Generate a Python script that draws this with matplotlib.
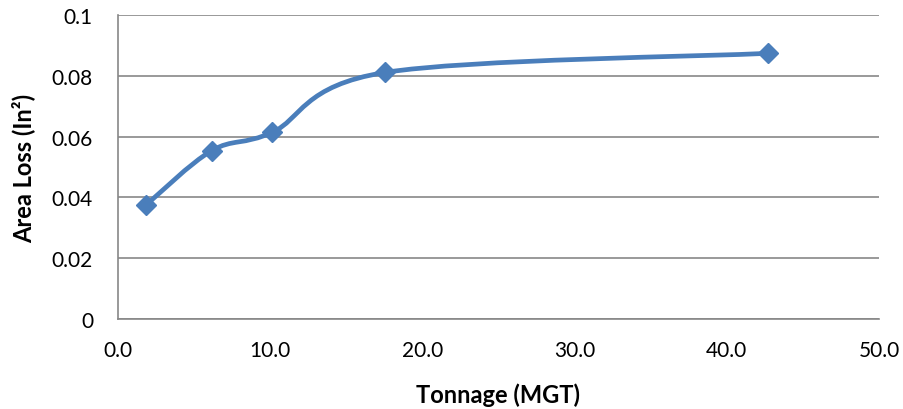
import matplotlib.pyplot as plt
from matplotlib.path import Path
from matplotlib.patches import PathPatch
import numpy as np

plt.rcParams['font.family'] = ['Lato', 'DejaVu Sans']

# data
tonnage = [1.84, 6.16, 10.14, 17.54, 42.73]
area_loss = [0.0375, 0.0554, 0.0614, 0.0811, 0.0874]
x_ticks = [0, 10, 20, 30, 40, 50]
y_ticks = [0, 0.02, 0.04, 0.06, 0.08, 0.1]
y_tick_labels = ['0', '0.02', '0.04', '0.06', '0.08', '0.1']

line_col = '#4A7EBB'
grid_col = '#878787'

fig = plt.figure(figsize=(9.04, 4.10), dpi=100)
ax = fig.add_axes([118/904, 90/410, 761/904, 304/410])

# smoothed line like Excel (Catmull-Rom as cubic bezier)
pts = np.column_stack([tonnage, area_loss])
verts = [pts[0]]
codes = [Path.MOVETO]
n = len(pts)
for i in range(n - 1):
    p0 = pts[max(i - 1, 0)]
    p1 = pts[i]
    p2 = pts[i + 1]
    p3 = pts[min(i + 2, n - 1)]
    c1 = p1 + (p2 - p0) / 6.0
    c2 = p2 - (p3 - p1) / 6.0
    verts += [c1, c2, p2]
    codes += [Path.CURVE4] * 3
ax.add_patch(PathPatch(Path(verts, codes), fill=False, edgecolor=line_col,
                       lw=3.4, capstyle='round', joinstyle='round', zorder=3))
ax.plot(tonnage, area_loss, linestyle='none', marker='D', ms=10,
        color=line_col, zorder=4)

ax.set_xlim(0, 50)
ax.set_ylim(0, 0.1)
ax.set_xticks(x_ticks)
ax.set_xticklabels(['%.1f' % v for v in x_ticks])
ax.set_yticks(y_ticks)
ax.set_yticklabels(y_tick_labels)
ax.tick_params(length=0, labelsize=15, colors='black')
ax.tick_params(axis='x', pad=15)
ax.tick_params(axis='y', pad=18)

ax.grid(axis='y', color=grid_col, lw=1.2)
ax.set_axisbelow(True)
for s in ['top', 'right']:
    ax.spines[s].set_visible(False)
for s in ['left', 'bottom']:
    ax.spines[s].set_color(grid_col)
    ax.spines[s].set_linewidth(1.2)

ax.set_xlabel('Tonnage (MGT)', fontsize=17, fontweight='bold', labelpad=16)
ax.set_ylabel('Area Loss (In²)', fontsize=17, fontweight='bold', labelpad=12)

fig.savefig('out.png', dpi=100)
